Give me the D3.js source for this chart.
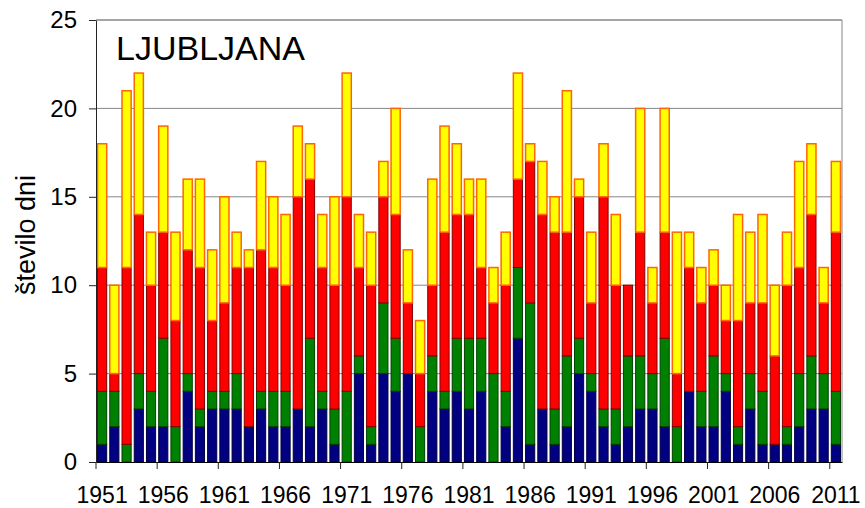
<!DOCTYPE html>
<html lang="sl">
<head>
  <meta charset="UTF-8">
  <title>Ljubljana - število dni</title>
  <script src="https://d3js.org/d3.v7.min.js"></script>
  <style>
    body { margin: 0; background: #fff; font-family: 'Liberation Sans', Arial, sans-serif; }
    svg text { font-family: 'Liberation Sans', Arial, sans-serif; fill: #000; }
  </style>
</head>
<body>
  <div id="chart"></div>

  <script>
    // leta 1951-2011
    const years = d3.range(1951, 2012);

    // vrednosti po barvah (od spodaj navzgor)
    const blueVals = [1, 2, 0, 3, 2, 2, 0, 4, 2, 3,
                      3, 3, 2, 3, 2, 2, 3, 2, 3, 1,
                      0, 5, 1, 5, 4, 5, 0, 4, 3, 4,
                      3, 4, 0, 2, 7, 1, 3, 1, 2, 5,
                      4, 2, 1, 2, 3, 3, 2, 0, 4, 2,
                      2, 4, 1, 3, 1, 1, 1, 2, 3, 3, 1];
    const greenVals = [3, 2, 1, 2, 2, 5, 2, 1, 1, 1,
                       1, 2, 0, 1, 2, 2, 0, 5, 1, 2,
                       4, 1, 1, 4, 3, 0, 2, 2, 1, 3,
                       4, 3, 5, 2, 4, 8, 0, 2, 4, 2,
                       1, 1, 2, 4, 3, 2, 5, 2, 0, 2,
                       4, 1, 1, 2, 3, 0, 1, 3, 3, 2, 3];
    const redVals = [7, 1, 10, 9, 6, 6, 6, 7, 8, 4,
                     5, 6, 9, 8, 7, 6, 12, 9, 7, 7,
                     11, 5, 8, 6, 7, 4, 3, 4, 9, 7,
                     7, 4, 4, 6, 5, 8, 11, 10, 7, 8,
                     4, 12, 7, 4, 7, 4, 6, 3, 7, 5,
                     4, 3, 6, 4, 5, 5, 8, 6, 8, 4, 9];
    const yellowVals = [7, 5, 10, 8, 3, 6, 5, 4, 5, 4,
                        6, 2, 1, 5, 4, 4, 4, 2, 3, 5,
                        7, 3, 3, 2, 6, 3, 3, 6, 6, 4,
                        2, 5, 2, 3, 6, 1, 3, 2, 8, 1,
                        4, 3, 4, 0, 7, 2, 7, 8, 2, 2,
                        2, 2, 6, 4, 5, 4, 3, 6, 4, 2, 4];

    const yTicks = [0, 5, 10, 15, 20, 25];
    const labelYears = years.filter((d, i) => i % 5 === 0);

    const series = [
      { key: "blue", fill: "#000080", stroke: "#000040", sw: 1 },
      { key: "green", fill: "#008000", stroke: "#004000", sw: 1 },
      { key: "red", fill: "#ff0000", stroke: "#800000", sw: 1 },
      { key: "yellow", fill: "#ffff00", stroke: "#ff6600", sw: 1.5 }
    ];

    const rows = years.map((y, i) => ({
      year: y,
      blue: blueVals[i],
      green: greenVals[i],
      red: redVals[i],
      yellow: yellowVals[i]
    }));

    const W = 865, H = 508;
    const margin = { top: 20, right: 23, bottom: 46, left: 96 };
    const width = W - margin.left - margin.right;
    const height = H - margin.top - margin.bottom;

    const svgRoot = d3.select("#chart").append("svg")
      .attr("width", W)
      .attr("height", H);

    const svg = svgRoot.append("g")
      .attr("transform", `translate(${margin.left},${margin.top})`);

    const x = d3.scaleBand()
      .domain(years)
      .range([0, width])
      .paddingInner(0.17)
      .paddingOuter(0.085);

    const y = d3.scaleLinear()
      .domain([0, 25])
      .range([height, 0]);

    // mreža
    svg.append("g")
      .selectAll("line")
      .data(yTicks.filter(d => d > 0))
      .enter()
      .append("line")
      .attr("x1", 0)
      .attr("x2", width)
      .attr("y1", d => y(d))
      .attr("y2", d => y(d))
      .attr("stroke", "#868686")
      .attr("stroke-width", 1);

    // desni rob
    svg.append("line")
      .attr("x1", width).attr("x2", width)
      .attr("y1", 0).attr("y2", height)
      .attr("stroke", "#868686");

    // stolpci
    const stacked = d3.stack().keys(series.map(s => s.key))(rows);

    svg.append("g")
      .selectAll("g")
      .data(stacked)
      .enter()
      .append("g")
      .attr("fill", (d, i) => series[i].fill)
      .attr("stroke", (d, i) => series[i].stroke)
      .attr("stroke-width", (d, i) => series[i].sw)
      .selectAll("rect")
      .data(d => d.filter(p => p[1] > p[0]))
      .enter()
      .append("rect")
      .attr("x", d => x(d.data.year) + 0.5)
      .attr("width", x.bandwidth() - 1)
      .attr("y", d => y(d[1]))
      .attr("height", d => y(d[0]) - y(d[1]));

    // os y
    const yAxis = svg.append("g")
      .call(d3.axisLeft(y).tickValues(yTicks).tickSize(7).tickPadding(12).tickSizeOuter(0));
    yAxis.select(".domain").attr("stroke", "#222");
    yAxis.selectAll(".tick line").attr("stroke", "#222");
    yAxis.selectAll("text").style("font-size", "24px");

    // os x
    const xAxis = svg.append("g")
      .attr("transform", `translate(0,${height})`)
      .call(d3.axisBottom(x).tickValues(labelYears).tickSize(0).tickPadding(25).tickSizeOuter(0));
    xAxis.select(".domain").attr("stroke", "#000");
    xAxis.selectAll("text").style("font-size", "23px");

    // oznake med stolpci (vsakih 5 let)
    const half = x.step() * x.paddingInner() / 2;
    svg.append("g")
      .selectAll("line")
      .data(labelYears)
      .enter()
      .append("line")
      .attr("x1", d => x(d) - half)
      .attr("x2", d => x(d) - half)
      .attr("y1", height)
      .attr("y2", height + 7)
      .attr("stroke", "#222");

    // zgornji rob
    svg.append("line")
      .attr("x1", 0).attr("x2", width)
      .attr("y1", 0).attr("y2", 0)
      .attr("stroke", "#868686");

    // naslov
    svg.append("text")
      .attr("x", 20)
      .attr("y", 40)
      .style("font-size", "34px")
      .text("LJUBLJANA");

    // naslov osi y
    svgRoot.append("text")
      .attr("transform", "translate(35,235) rotate(-90)")
      .attr("text-anchor", "middle")
      .style("font-size", "27px")
      .text("število dni");
  </script>
</body>
</html>
